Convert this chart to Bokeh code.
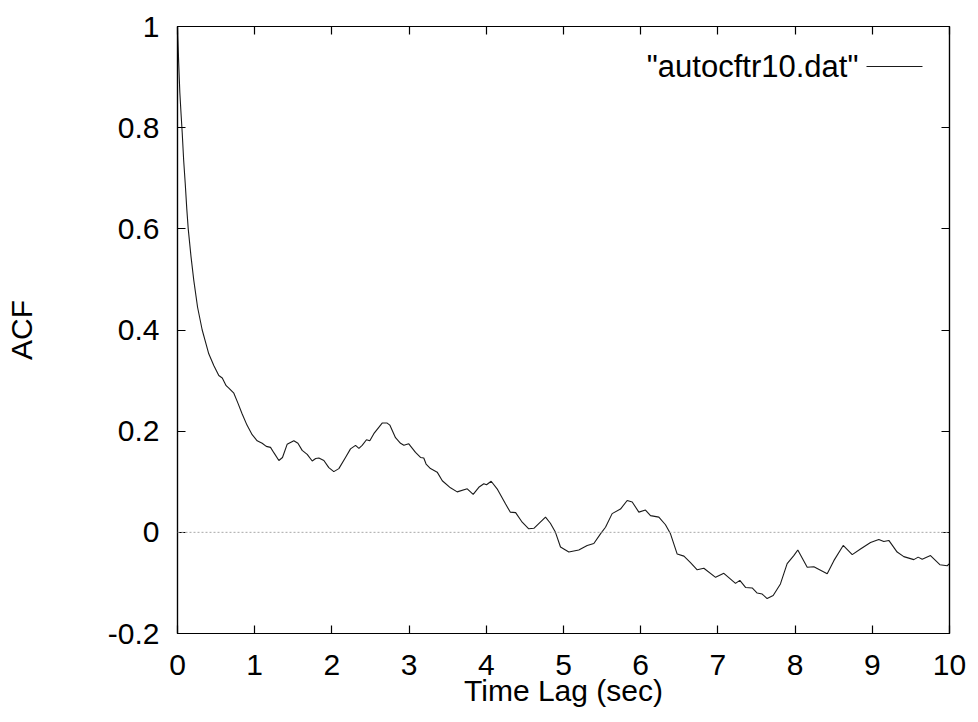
from bokeh.plotting import figure
from bokeh.models import (Range1d, FixedTicker, LinearAxis, Span, Label, Arrow)
from bokeh.embed import file_html
from bokeh.resources import INLINE

# ---- data ----
lag_sec = [0.00, 0.015, 0.03, 0.045, 0.061, 0.08, 0.10, 0.12, 0.139, 0.175,
           0.211, 0.26,
           0.32, 0.365, 0.405, 0.47, 0.535, 0.58, 0.63, 0.665, 0.73, 0.784,
           0.838, 0.90, 0.967, 1.032, 1.097, 1.15, 1.205, 1.25, 1.313, 1.36,
           1.42, 1.507, 1.56, 1.615, 1.68, 1.745, 1.79, 1.831, 1.896, 1.96,
           2.025, 2.09, 2.176, 2.241, 2.306, 2.35, 2.392, 2.448, 2.491, 2.543,
           2.651, 2.716, 2.75, 2.824, 2.889, 2.932, 2.996, 3.083, 3.148, 3.19,
           3.22, 3.277, 3.364, 3.43, 3.536, 3.623, 3.753, 3.83, 3.903, 3.968,
           4.003, 4.063, 4.14, 4.25, 4.31, 4.38, 4.465, 4.55, 4.616, 4.767,
           4.83, 4.896, 4.961, 5.069, 5.198, 5.307, 5.393, 5.479, 5.544, 5.63,
           5.738, 5.825, 5.89, 5.976, 6.062, 6.127, 6.235, 6.321, 6.386, 6.473,
           6.56, 6.645, 6.732, 6.818, 6.97, 7.077, 7.228, 7.284, 7.358, 7.444,
           7.509, 7.574, 7.638, 7.716, 7.81, 7.897, 7.983, 8.035, 8.157, 8.243,
           8.416, 8.502, 8.623, 8.74, 8.847, 8.977, 9.084, 9.149, 9.214, 9.322,
           9.408, 9.538, 9.594, 9.646, 9.754, 9.875, 9.97, 10.0]
acf = [1.000, 0.930, 0.870, 0.830, 0.790, 0.735, 0.690, 0.640, 0.600, 0.545,
       0.498, 0.445,
       0.400, 0.375, 0.353, 0.330, 0.310, 0.305, 0.290, 0.285, 0.275, 0.255,
       0.234, 0.212, 0.193, 0.181, 0.176, 0.170, 0.168, 0.157, 0.142, 0.148,
       0.174, 0.181, 0.176, 0.162, 0.154, 0.141, 0.146, 0.147, 0.142, 0.128,
       0.120, 0.126, 0.148, 0.165, 0.172, 0.166, 0.172, 0.183, 0.181, 0.195,
       0.216, 0.216, 0.212, 0.187, 0.176, 0.172, 0.175, 0.158, 0.148, 0.147,
       0.135, 0.126, 0.119, 0.102, 0.088, 0.080, 0.086, 0.075, 0.089, 0.096,
       0.094, 0.101, 0.086, 0.056, 0.040, 0.039, 0.020, 0.007, 0.008, 0.030,
       0.018, 0.000, -0.029, -0.039, -0.035, -0.026, -0.022, -0.003, 0.010, 0.037,
       0.046, 0.063, 0.060, 0.040, 0.044, 0.033, 0.030, 0.015, -0.003, -0.043,
       -0.047, -0.060, -0.074, -0.071, -0.089, -0.081, -0.101, -0.095, -0.109, -0.110,
       -0.120, -0.122, -0.131, -0.125, -0.102, -0.062, -0.046, -0.035, -0.069, -0.068,
       -0.082, -0.056, -0.026, -0.044, -0.033, -0.020, -0.014, -0.018, -0.016, -0.039,
       -0.048, -0.054, -0.049, -0.053, -0.046, -0.064, -0.066, -0.062]

x_ticks = [0, 1, 2, 3, 4, 5, 6, 7, 8, 9, 10]
x_tick_labels = ["0", "1", "2", "3", "4", "5", "6", "7", "8", "9", "10"]
y_ticks = [-0.2, 0, 0.2, 0.4, 0.6, 0.8, 1.0]
y_tick_labels = ["-0.2", "0", "0.2", "0.4", "0.6", "0.8", "1"]
series_name = '"autocftr10.dat"'
x_title = "Time Lag (sec)"
y_title = "ACF"

FONT = "Liberation Sans"
FS = "30px"

p = figure(output_backend="svg", toolbar_location=None,
           frame_width=772, frame_height=607,
           min_border_left=177, min_border_right=21,
           min_border_top=26, min_border_bottom=81,
           x_range=Range1d(0, 10), y_range=Range1d(-0.2, 1.0),
           x_axis_label=x_title, y_axis_label=y_title)
p.background_fill_color = "white"
p.border_fill_color = "white"
p.outline_line_color = "black"
p.outline_line_width = 1.2
p.xgrid.visible = False
p.ygrid.visible = False

def style_axis(ax, ticks, labels, show_labels=True):
    ax.ticker = FixedTicker(ticks=ticks)
    ax.minor_tick_line_color = None
    ax.major_tick_in = 8
    ax.major_tick_out = 0
    ax.major_tick_line_color = "black"
    ax.major_tick_line_width = 1.2
    ax.axis_line_color = "black"
    ax.axis_line_width = 1.2
    if show_labels:
        ax.major_label_overrides = {t: l for t, l in zip(ticks, labels)}
        ax.major_label_text_font = FONT
        ax.major_label_text_color = "black"
        ax.major_label_text_font_size = FS
    else:
        # mirrored tick marks only (gnuplot style), no labels drawn
        ax.major_label_text_color = None
        ax.major_label_text_font_size = "10px"
        ax.major_label_standoff = 0

style_axis(p.xaxis[0], x_ticks, x_tick_labels)
style_axis(p.yaxis[0], y_ticks, y_tick_labels)
p.xaxis[0].major_label_standoff = 21
p.yaxis[0].major_label_standoff = 18
for ax in (p.xaxis[0], p.yaxis[0]):
    ax.axis_label_text_font = FONT
    ax.axis_label_text_font_size = FS
    ax.axis_label_text_font_style = "normal"
    ax.axis_label_text_color = "black"
p.xaxis[0].axis_label_standoff = -4
p.yaxis[0].axis_label_standoff = 67

top_ax = LinearAxis()
right_ax = LinearAxis()
style_axis(top_ax, x_ticks, x_tick_labels, show_labels=False)
style_axis(right_ax, y_ticks, y_tick_labels, show_labels=False)
p.add_layout(top_ax, "above")
p.add_layout(right_ax, "right")

zero_line = Span(location=0, dimension="width", line_color="#a8a8a8",
                 line_width=1, line_dash="2 2")
p.add_layout(zero_line)

p.line(lag_sec, acf, line_color="#1a1a1a", line_width=1.1)

# gnuplot-style key: text followed by the line sample, top right
key_text_x, key_y = 8.82, 0.921
key_line_x0, key_line_x1 = 8.925, 9.65
p.add_layout(Label(x=key_text_x, y=key_y, text=series_name,
                   text_font=FONT, text_font_size="31px", text_color="black",
                   text_align="right", text_baseline="middle"))
p.add_layout(Arrow(end=None, start=None, x_start=key_line_x0, y_start=key_y,
                   x_end=key_line_x1, y_end=key_y, line_color="#1a1a1a",
                   line_width=1.1))

open("out.html", "w").write(file_html(p, INLINE))
